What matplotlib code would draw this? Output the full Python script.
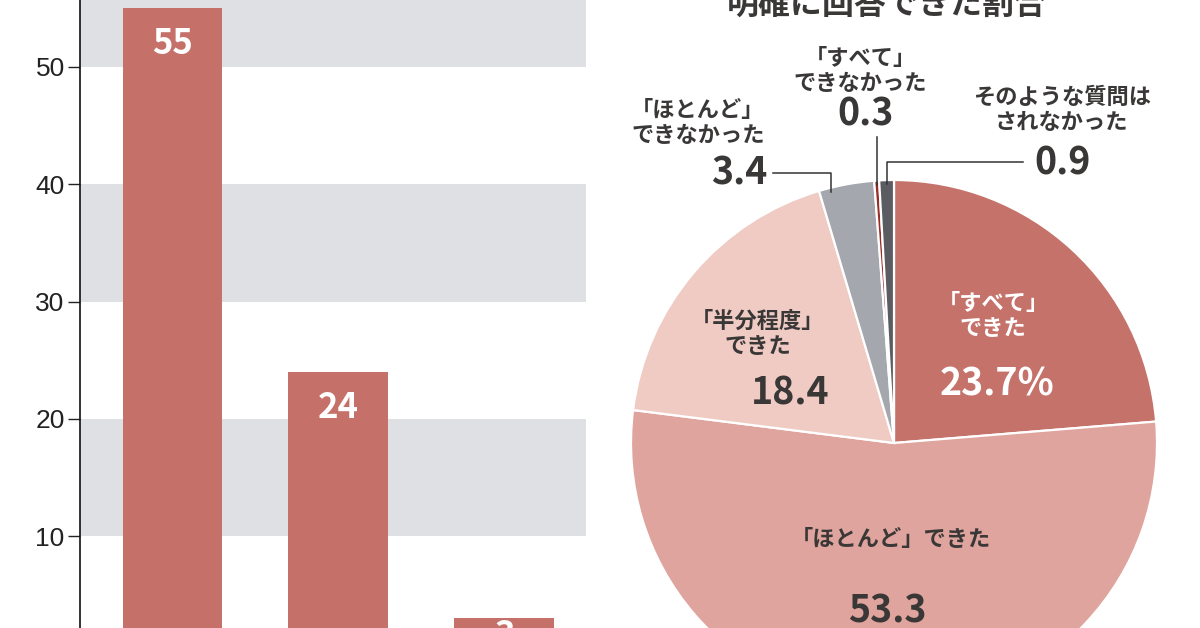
import numpy as np
import matplotlib
matplotlib.use("Agg")
import matplotlib.pyplot as plt

plt.rcParams['font.family'] = ['Noto Sans CJK JP', 'DejaVu Sans']

# bar chart (left, cropped)
bar_values = [55, 24, 3]
bar_ticks = [10, 20, 30, 40, 50]

# pie chart (right)
pie_title = "明確に回答できた割合"
pie_labels = ["「すべて」\nできた", "「ほとんど」できた", "「半分程度」\nできた",
              "「ほとんど」\nできなかった", "「すべて」\nできなかった",
              "そのような質問は\nされなかった"]
pie_values = [23.7, 53.3, 18.4, 3.4, 0.3, 0.9]
pie_value_text = ["23.7%", "53.3", "18.4", "3.4", "0.3", "0.9"]
pie_colors = ["#c5726a", "#dfa49d", "#efcbc4", "#a4a7ad", "#9a2c28", "#5b5c61"]

W, H = 1200, 628
TXT = "#3a3737"
BAR = "#c5716a"
BAND = "#dfe0e3"

fig = plt.figure(figsize=(12, 6.28), dpi=100)

# ---- bars ----
ax = fig.add_axes([80 / W, 0, (586 - 80) / W, 1])
x = np.arange(len(bar_values))
for lo in (10, 30, 50):
    ax.axhspan(lo, lo + 10, color=BAND, lw=0, zorder=0)
ax.bar(x, bar_values, width=0.6, color=BAR, zorder=2)
for xi, v in zip(x, bar_values):
    # short bars get the number centred inside them
    ty = v - 3.0 if v > 6 else v / 2
    ax.text(xi, ty, str(v), ha='center', va='center', color='white',
            fontsize=25, fontweight='bold', zorder=3)
ax.set_xlim(-0.558, 2.495)
ax.set_ylim(2.16, 55.71)
ax.set_yticks(bar_ticks)
ax.set_yticklabels([str(t) for t in bar_ticks], family=['Liberation Sans'],
                   fontsize=19, color='#222222')
ax.tick_params(axis='y', length=9, width=1.0, pad=2, color='#222222')
ax.set_xticks([])
for s in ('top', 'right', 'bottom'):
    ax.spines[s].set_visible(False)
ax.spines['left'].set_linewidth(1.2)
ax.spines['left'].set_color('#111111')

# ---- pie ----
cx, cy, r = 894, 443, 263
pax = fig.add_axes([(cx - r) / W, (H - cy - r) / H, 2 * r / W, 2 * r / H])
wedges, _ = pax.pie(pie_values, colors=pie_colors, startangle=90, counterclock=False,
                    radius=1, wedgeprops=dict(edgecolor='white', linewidth=1.6))
pax.set_xlim(-1, 1)
pax.set_ylim(-1, 1)
pax.set_aspect('equal')
pax.axis('off')


def to_data(px, py):
    return (px - cx) / r, (cy - py) / r


def fig_text(px, py, s, **kw):
    fig.text(px / W, 1 - py / H, s, ha='center', va='center', **kw)


# title (cut off at top)
fig_text(887, 5, pie_title, fontsize=23, fontweight='bold', color=TXT)

lab_kw = dict(fontsize=16, fontweight='bold', linespacing=1.15)
num_kw = dict(fontsize=27, fontweight='bold')

# big slices
fig_text(993, 316, pie_labels[0], color='white', **lab_kw)
fig_text(997, 384, pie_value_text[0], color='white', **num_kw)
fig_text(891, 540, pie_labels[1], color=TXT, **lab_kw)
fig_text(887, 611, pie_value_text[1], color=TXT, **num_kw)
fig_text(758, 334, pie_labels[2], color=TXT, **lab_kw)
fig_text(790, 393, pie_value_text[2], color=TXT, **num_kw)

# small slices with leader lines
fig_text(698, 123, pie_labels[3], color=TXT, **lab_kw)
fig.text(767 / W, 1 - 173 / H, pie_value_text[3], ha='right', va='center', color=TXT, **num_kw)
fig_text(860, 71, pie_labels[4], color=TXT, **lab_kw)
fig_text(866, 114, pie_value_text[4], color=TXT, **num_kw)
fig_text(1062, 110, pie_labels[5], color=TXT, **lab_kw)
fig_text(1063, 163, pie_value_text[5], color=TXT, **num_kw)


def anchor(w, frac=0.5, rad=0.985):
    a = np.deg2rad(w.theta1 + (w.theta2 - w.theta1) * frac)
    return rad * np.cos(a), rad * np.sin(a)


lk = dict(color='#333333', lw=1.1, zorder=5, clip_on=False)
# 3.4
ax0, ay0 = anchor(wedges[3], 0.8)
_, yl = to_data(0, 173)
xl, _ = to_data(773, 0)
pax.plot([ax0, ax0, xl], [ay0, yl, yl], **lk)
# 0.3
ax1, ay1 = anchor(wedges[4])
_, yl = to_data(0, 137)
pax.plot([ax1, ax1], [ay1, yl], **lk)
# 0.9
ax2, ay2 = anchor(wedges[5])
_, yl = to_data(0, 162)
xl, _ = to_data(1023, 0)
pax.plot([ax2, ax2, xl], [ay2, yl, yl], **lk)

fig.savefig("out.png", dpi=100)
